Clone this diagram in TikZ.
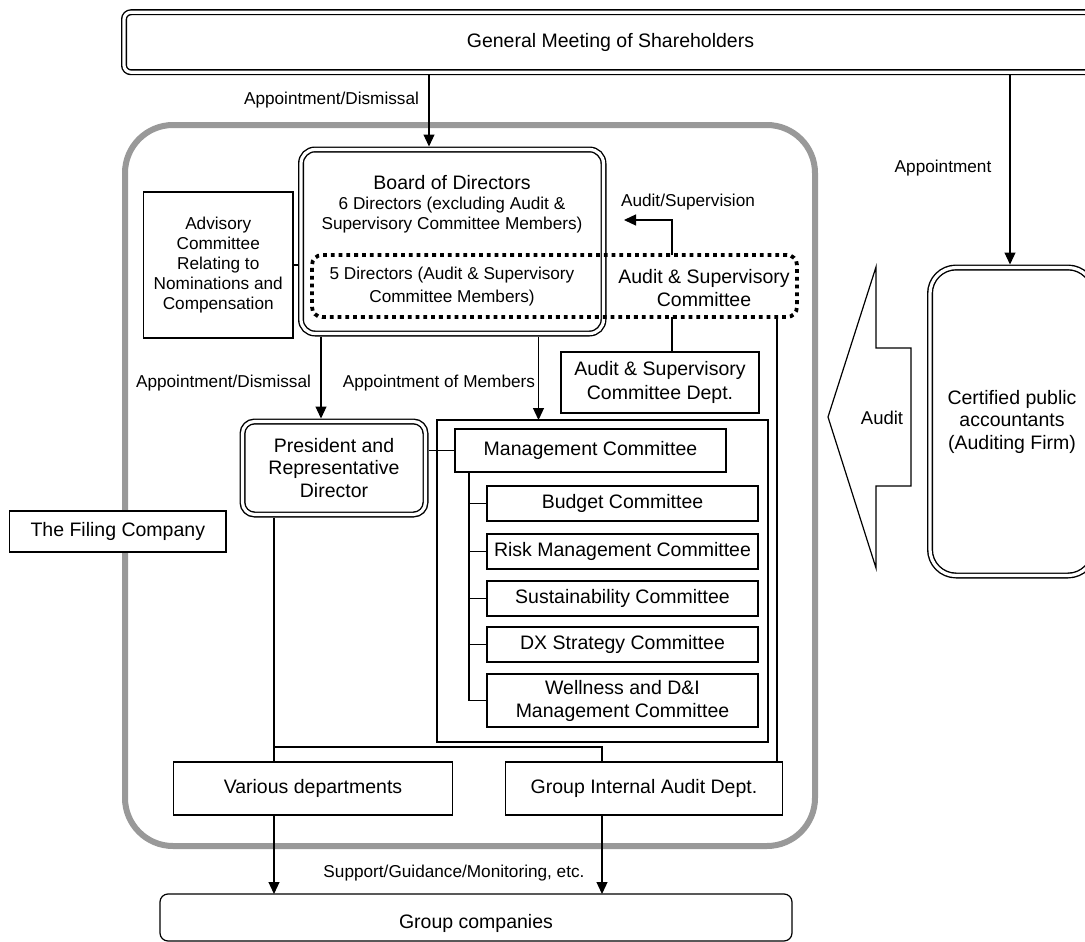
\documentclass[tikz,border=0pt]{standalone}
\usepackage{fontspec}
\setmainfont{Liberation Sans}
\usetikzlibrary{arrows.meta}
\newcommand\fbig{\fontsize{19.5}{22.5}\selectfont}
\newcommand\fsml{\fontsize{17.2}{20}\selectfont}
\definecolor{framegray}{RGB}{153,153,153}
\begin{document}
\begin{tikzpicture}[x=1pt,y=-1pt,
  every node/.style={outer sep=0pt, inner sep=0pt},
  plainbox/.style={draw, line width=1.2pt, fill=white, align=center, font=\fbig},
  dblbox/.style={draw, double, double distance=3.2pt, line width=1.4pt, fill=white, align=center, font=\fbig},
  dotbox/.style={draw, line width=3.8pt, dash pattern=on 3.8pt off 4pt, rounded corners=10pt},
  txt/.style={align=center, font=\fbig},
  lbl/.style={align=center, font=\fsml},
  conn/.style={line width=1.2pt},
  arr/.style={line width=1.2pt, -{Triangle[length=12pt,width=11pt]}},
]
\useasboundingbox (0,0) rectangle (1085,942);

% company frame
\draw[framegray, line width=6pt, rounded corners=48pt] (125,125) rectangle (815,846);

% x positions of connectors
\coordinate (tx) at (429,0);
\coordinate (cx) at (1010,0);
\coordinate (ax1) at (321,0);
\coordinate (ax2) at (538.5,0);
\coordinate (asx) at (672,0);
\coordinate (rx) at (777,0);
\coordinate (px) at (274,0);
\coordinate (gx) at (602,0);
\coordinate (trunk) at (469,0);
\coordinate (jn) at (274,747);
\coordinate (astip) at (624,220);

% nodes
\node[dblbox, rounded corners=7pt, minimum width=973pt, minimum height=60pt] (gm) at (610.5,42.25) {General Meeting of Shareholders};

\node[dblbox, rounded corners=14pt, minimum width=302.5pt, minimum height=184pt] (bod) at (452.25,241.5) {};
\node[txt] (bodtitle) at (452,183) {Board of Directors};
\node[lbl] (bodsub) at (452,215) {6 Directors (excluding Audit \&\\Supervisory Committee Members)};

\node[plainbox, font=\fsml, minimum width=149.5pt, minimum height=146pt] (adv) at (218.25,265) {Advisory\\Committee\\Relating to\\Nominations and\\Compensation};

\node[dotbox, minimum width=485pt, minimum height=62pt] (dotted) at (554.5,286) {};
\node[lbl] (dirs5) at (452,286.5) {5 Directors (Audit \& Supervisory\\[3pt]Committee Members)};
\node[txt] (acs) at (704,288.5) {Audit \& Supervisory\\[0.5pt]Committee};

\node[plainbox, minimum width=198pt, minimum height=61pt] (acsd) at (660,382.5) {Audit \& Supervisory\\[1.5pt]Committee Dept.};

\node[dblbox, rounded corners=12pt, minimum width=183pt, minimum height=93pt] (pres) at (334,468) {President and\\Representative\\Director};

\node[plainbox, minimum width=331pt, minimum height=322pt] (panel) at (602.5,581) {};
\node[plainbox, minimum width=271pt, minimum height=43pt] (mc) at (590.5,450.5) {Management Committee};
\node[plainbox, minimum width=271pt, minimum height=35pt] (bud) at (622.5,503.5) {Budget Committee};
\node[plainbox, minimum width=271pt, minimum height=35pt] (risk) at (622.5,551.5) {Risk Management Committee};
\node[plainbox, minimum width=271pt, minimum height=35pt] (sus) at (622.5,598.5) {Sustainability Committee};
\node[plainbox, minimum width=271pt, minimum height=35pt] (dx) at (622.5,644.5) {DX Strategy Committee};
\node[plainbox, minimum width=271pt, minimum height=53pt] (well) at (622.5,700.5) {Wellness and D\&I\\[0.5pt]Management Committee};

\node[plainbox, minimum width=279pt, minimum height=53pt] (var) at (313,788.5) {Various departments};
\node[plainbox, minimum width=277pt, minimum height=53pt] (gia) at (644,788.5) {Group Internal Audit Dept.};

\node[plainbox, rounded corners=8pt, minimum width=632pt, minimum height=47pt, text height=22pt, text depth=0pt] (gc) at (476,917.5) {Group companies};

\node[dblbox, rounded corners=26pt, minimum width=164pt, minimum height=308pt] (cpa) at (1012,421.5) {Certified public\\accountants\\(Auditing Firm)};

\node[plainbox, minimum width=216.4pt, minimum height=41pt] (filing) at (117.8,531.5) {The Filing Company};

% audit block arrow
\draw[fill=white, line width=1.2pt] (828,417) -- (876,267) -- (876,348) -- (911,348) -- (911,486) -- (876,486) -- (876,568) -- cycle;
\node[font=\fontsize{18.5}{21}\selectfont] (auditlbl) at (882,418) {Audit};

% connectors
\draw[arr, shorten <=3pt, shorten >=3pt] (gm.south -| tx) -- (bod.north -| tx);
\node[lbl, anchor=east] (l1) at (419,100) {Appointment/Dismissal};

\draw[arr, shorten <=3pt, shorten >=3pt] (gm.south -| cx) -- (cpa.north -| cx);
\node[lbl] (l2) at (943,168) {Appointment};

\draw[conn, shorten >=3pt] (adv.east) -- (adv.east -| bod.west);

\draw[arr] (dotted.north -| asx) |- (astip);
\node[lbl] (l3) at (688,202) {Audit/Supervision};

\draw[conn] (dotted.south -| asx) -- (acsd.north -| asx);
\draw[conn] (dotted.south -| rx) -- (gia.north -| rx);

\draw[arr, shorten <=3pt, shorten >=3pt] (bod.south -| ax1) -- (pres.north -| ax1);
\node[lbl, anchor=east] (l4) at (311,383) {Appointment/Dismissal};
\draw[arr, shorten <=3pt] (bod.south -| ax2) -- (panel.north -| ax2);
\node[lbl, anchor=east] (l5) at (535,383) {Appointment of Members};

\draw[conn, shorten >=3pt] (mc.west) -- (mc.west -| pres.east);
\draw[conn] (mc.south -| trunk) |- (well.west);
\draw[conn] (bud.west) -- (bud.west -| trunk);
\draw[conn] (risk.west) -- (risk.west -| trunk);
\draw[conn] (sus.west) -- (sus.west -| trunk);
\draw[conn] (dx.west) -- (dx.west -| trunk);

\draw[conn, shorten <=3pt] (pres.south -| px) -- (var.north -| px);
\draw[conn] (jn) -| (gia.north -| gx);

\draw[arr] (var.south -| px) -- (gc.north -| px);
\draw[arr] (gia.south -| gx) -- (gc.north -| gx);
\node[lbl] (l6) at (454,873) {Support/Guidance/Monitoring, etc.};
\end{tikzpicture}
\end{document}
